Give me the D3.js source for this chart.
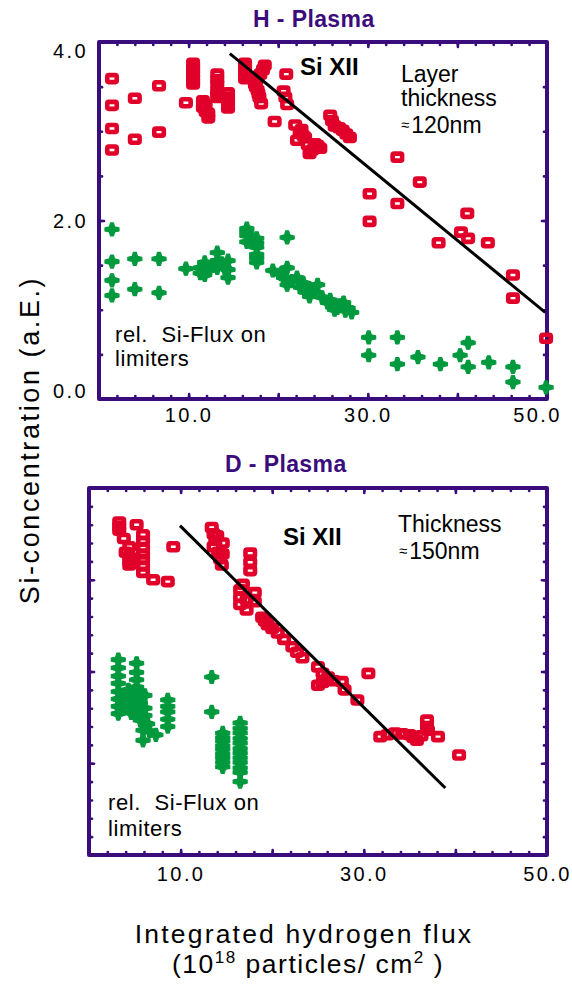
<!DOCTYPE html>
<html>
<head>
<meta charset="utf-8">
<script src="https://cdn.jsdelivr.net/npm/d3@7"></script>
<style>
  body { margin: 0; background: #fff; }
  text { font-family: "Liberation Sans", Arial, sans-serif; }
</style>
</head>
<body>
<svg id="chart" width="572" height="986"></svg>
<script>
// ---- data ----
// H - Plasma, Si XII  [flux, concentration]
var hSiXII = [
  [1.45,3.59],[1.45,3.29],[1.45,3.03],[1.45,2.79],
  [4.0,3.37],[4.0,2.91],[6.7,3.51],[6.7,2.99],[9.7,3.32],
  [10.5,3.76],[10.5,3.72],[10.5,3.68],[10.5,3.64],[10.5,3.60],[10.5,3.56],[10.5,3.53],
  [11.6,3.34],[11.6,3.27],[11.9,3.30],[11.9,3.22],[12.2,3.20],[12.2,3.15],
  [13.2,3.64],[13.2,3.58],[13.2,3.53],[13.2,3.46],[13.2,3.42],[13.2,3.38],
  [14.4,3.43],[14.4,3.38],[14.4,3.34],[14.4,3.30],[14.4,3.26],
  [16.3,3.76],[16.3,3.72],[16.3,3.68],[16.3,3.63],[16.3,3.59],
  [18.5,3.74],[18.3,3.69],[18.0,3.64],[17.6,3.58],[17.4,3.53],[17.5,3.50],
  [17.7,3.46],[17.8,3.42],[17.9,3.38],[18.1,3.31],
  [20.9,3.64],[20.6,3.45],[20.8,3.38],[21.0,3.30],[19.6,3.11],
  [21.9,3.07],[22.6,3.02],[22.4,2.98],[22.1,2.90],[22.8,2.95],
  [23.0,2.93],[23.3,2.85],[24.1,2.86],[24.4,2.84],[23.8,2.79],[24.7,2.81],[23.5,2.75],
  [25.8,3.18],[26.0,3.12],[26.3,3.06],[26.8,3.04],[27.2,3.01],[27.6,2.97],[28.0,2.93],
  [33.3,2.71],[35.8,2.43],[30.2,2.30],[33.3,2.19],[41.1,2.08],[30.2,1.99],
  [37.9,1.75],[40.4,1.87],[41.2,1.80],[43.4,1.75],[46.2,1.39],[46.2,1.13],[49.9,0.68]
];
// H - Plasma, rel. Si-Flux on limiters
var hFlux = [
  [1.45,1.90],[1.45,1.54],[1.45,1.33],[1.45,1.16],
  [4.0,1.57],[4.0,1.23],[6.7,1.57],[6.7,1.19],[9.7,1.46],
  [11.3,1.47],[11.3,1.41],[11.8,1.39],[11.8,1.46],[11.8,1.53],[12.2,1.44],[12.7,1.50],
  [13.2,1.64],[13.2,1.55],[13.2,1.47],[13.7,1.52],[14.0,1.47],
  [14.4,1.55],[14.4,1.45],[14.4,1.36],
  [16.5,1.91],[16.5,1.87],[16.5,1.83],[16.5,1.76],
  [17.6,1.80],[17.6,1.75],[17.6,1.70],[17.6,1.62],[17.6,1.58],[17.6,1.53],
  [21.0,1.81],[19.4,1.44],[21.0,1.47],[21.0,1.28],[20.3,1.40],[20.6,1.36],[21.5,1.32],[22.1,1.36],
  [22.5,1.25],[22.8,1.30],[23.0,1.20],[23.5,1.24],[24.4,1.28],[23.5,1.15],[24.0,1.20],
  [24.9,1.14],[25.5,1.08],[25.8,1.11],[26.6,1.02],[26.9,1.05],[27.5,0.99],[27.8,1.02],
  [28.2,0.97],[26.3,1.00],[27.3,1.08],
  [30.1,0.69],[30.1,0.49],[33.3,0.69],[33.3,0.39],[35.6,0.47],[38.1,0.39],
  [40.3,0.49],[41.2,0.63],[41.2,0.36],[43.5,0.41],[46.2,0.36],[46.2,0.19],[49.9,0.13]
];
var hFit = [[14.6,3.87],[49.8,0.97]];

// D - Plasma, Si XII
var dSiXII = [
  [3.3,3.63],[3.3,3.58],[3.3,3.54],[5.2,3.60],
  [3.8,3.45],[4.0,3.30],[4.4,3.36],[4.4,3.25],[4.4,3.20],[4.4,3.16],
  [5.9,3.49],[5.9,3.42],[5.9,3.35],[5.9,3.28],[5.9,3.22],[5.9,3.15],[5.9,3.08],
  [7.0,3.00],[8.6,2.98],[9.2,3.36],
  [13.4,3.57],[13.6,3.50],[14.0,3.48],[13.8,3.43],[14.6,3.40],[13.6,3.36],
  [14.1,3.30],[14.6,3.28],[14.3,3.23],[14.5,3.16],
  [17.6,3.29],[17.6,3.19],[17.6,3.10],
  [16.5,2.89],[16.8,2.95],[16.5,2.81],[16.5,2.73],[18.1,2.86],[17.2,2.78],[18.1,2.76],[17.2,2.67],
  [18.9,2.59],[19.2,2.55],[19.5,2.51],[20.0,2.47],[20.6,2.42],[21.3,2.35],
  [22.2,2.27],[22.7,2.21],[23.3,2.15],
  [25.0,2.05],[25.5,1.98],[25.0,1.85],[25.5,1.88],[26.1,1.94],[26.7,1.90],
  [27.6,1.89],[27.9,1.80],[29.3,1.69],[30.5,1.98],
  [31.8,1.29],[32.6,1.31],[33.4,1.33],[34.2,1.32],[35.0,1.31],[35.4,1.28],[35.8,1.25],
  [36.3,1.30],[36.9,1.47],[36.9,1.40],[37.0,1.36],[38.1,1.29],[40.4,1.09]
];
// D - Plasma, rel. Si-Flux on limiters
var dFlux = [
  [3.2,2.13],[3.2,2.04],[3.2,1.95],[3.2,1.87],[3.2,1.78],[3.2,1.70],[3.2,1.62],[3.2,1.54],
  [5.2,2.09],[5.2,1.99],[5.2,1.91],[5.2,1.83],
  [3.6,1.69],[3.6,1.60],[4.0,1.74],[4.3,1.80],[4.5,1.72],[4.5,1.63],[4.6,1.55],[4.9,1.69],
  [5.0,1.56],[5.2,1.78],[5.4,1.58],[5.6,1.66],[5.6,1.47],[6.1,1.74],[6.1,1.60],[6.1,1.52],
  [6.4,1.43],[6.6,1.35],
  [5.9,1.36],[5.9,1.25],[7.3,1.31],
  [8.6,1.69],[8.6,1.62],[8.6,1.56],[8.6,1.48],[8.6,1.40],
  [13.4,1.94],[13.4,1.56],
  [14.6,1.33],[14.6,1.28],[14.6,1.24],[14.6,1.19],[14.6,1.15],[14.6,1.10],
  [14.6,1.06],[14.6,1.01],[14.6,0.96],
  [16.5,1.44],[16.5,1.38],[16.5,1.33],[16.5,1.27],[16.5,1.22],[16.5,1.16],[16.5,1.11],
  [16.5,1.06],[16.5,1.01],[16.5,0.95],[16.5,0.90],[16.5,0.80]
];
var dFit = [[9.93,3.59],[38.9,0.73]];

var xLabels = [10, 30, 50];
var hYLabels = [0, 2, 4];

var purple = "#3b0c7c", red = "#e1002a", green = "#00993d";
var svg = d3.select("#chart");

// plus sign with slightly tapering arms, used for the flux points
var crossPath = "M-1.5,-6.5L1.5,-6.5L2.6,-2.6L7,-1.5L7,1.5L2.6,2.6L1.5,6.5L-1.5,6.5L-2.6,2.6L-7,1.5L-7,-1.5L-2.6,-2.6Z";

function drawPanel(p) {
  var x = d3.scaleLinear().domain([0, 50]).range([p.left, p.right]);
  var y = d3.scaleLinear().domain([0, p.yMax]).range([p.bottom, p.top]);
  var g = svg.append("g");

  var xMinor = d3.range(2, 50, 2), xMajor = [10, 20, 30, 40];
  var yMinor = d3.range(p.yStep, p.yMax - 1e-9, p.yStep);

  function ticks(axis, tx, ty, vals, len) {
    g.append("g").attr("transform", "translate(" + tx + "," + ty + ")")
      .call(axis.tickValues(vals).tickSize(-len).tickFormat(""))
      .call(function (a) { a.select(".domain").remove(); })
      .selectAll("line").attr("stroke", purple).attr("stroke-width", 2.6).attr("stroke-linecap", "round");
  }
  ticks(d3.axisBottom(x), 0, p.bottom, xMinor, 3);
  ticks(d3.axisBottom(x), 0, p.bottom, xMajor, 5);
  ticks(d3.axisTop(x), 0, p.top, xMinor, 3);
  ticks(d3.axisTop(x), 0, p.top, xMajor, 5);
  ticks(d3.axisLeft(y), p.left, 0, yMinor, 3);
  ticks(d3.axisLeft(y), p.left, 0, p.yMajor, 5);
  ticks(d3.axisRight(y), p.right, 0, yMinor, 3);
  ticks(d3.axisRight(y), p.right, 0, p.yMajor, 5);

  // frame
  g.append("rect")
    .attr("x", p.left).attr("y", p.top)
    .attr("width", p.right - p.left).attr("height", p.bottom - p.top)
    .attr("fill", "none").attr("stroke", purple).attr("stroke-width", 4)
    .attr("stroke-linejoin", "round");

  // x tick labels
  var xl = g.append("g").attr("transform", "translate(0," + p.bottom + ")")
    .call(d3.axisBottom(x).tickValues(xLabels).tickSize(0).tickPadding(p.xPad).tickFormat(d3.format(".1f")));
  xl.select(".domain").remove();
  xl.selectAll("text").attr("font-size", 20).attr("letter-spacing", 2.4)
    .attr("fill", "#000").attr("font-family", "Liberation Sans, Arial, sans-serif")
    .attr("dx", function (d) { return d === 50 ? p.lastDx : 0; });

  if (p.yLabels) {
    var yl = g.append("g").attr("transform", "translate(" + p.left + ",0)")
      .call(d3.axisLeft(y).tickValues(p.yLabels).tickSize(0).tickPadding(11).tickFormat(d3.format(".1f")));
    yl.select(".domain").remove();
    yl.selectAll("text").attr("font-size", 20).attr("letter-spacing", 2.4)
      .attr("fill", "#000").attr("font-family", "Liberation Sans, Arial, sans-serif")
      .attr("dy", function (d) { return d === 4 ? "0.78em" : d === 0 ? "-0.07em" : "0.34em"; });
  }

  // flux points
  g.append("g").selectAll("path").data(p.flux).join("path")
    .attr("d", crossPath)
    .attr("transform", function (d) { return "translate(" + x(d[0]) + "," + y(d[1]) + ")"; })
    .attr("fill", green).attr("stroke", green).attr("stroke-width", 1.2).attr("stroke-linejoin", "round");

  // Si XII points
  g.append("g").selectAll("rect").data(p.si).join("rect")
    .attr("x", function (d) { return x(d[0]) - 4.75; })
    .attr("y", function (d) { return y(d[1]) - 3.5; })
    .attr("width", 9.5).attr("height", 7).attr("rx", 1.5)
    .attr("fill", "none").attr("stroke", red).attr("stroke-width", 4.6);

  // fit line
  g.append("path").datum(p.fit)
    .attr("d", d3.line().x(function (d) { return x(d[0]); }).y(function (d) { return y(d[1]); }))
    .attr("stroke", "#000").attr("stroke-width", 3).attr("fill", "none");

  // title
  g.append("text").attr("x", p.titleX).attr("y", p.titleY)
    .attr("font-size", 23).attr("font-weight", "bold").attr("fill", purple)
    .attr("letter-spacing", 0.4).text(p.title);
}

drawPanel({
  left: 99, right: 547, top: 42, bottom: 399, yMax: 4, yStep: 0.5, yMajor: [2],
  si: hSiXII, flux: hFlux, fit: hFit, yLabels: hYLabels, xPad: 9, lastDx: -10,
  title: "H - Plasma", titleX: 253, titleY: 27
});
drawPanel({
  left: 89, right: 547, top: 488, bottom: 855, yMax: 4, yStep: 0.2, yMajor: [1, 2, 3],
  si: dSiXII, flux: dFlux, fit: dFit, yLabels: null, xPad: 12, lastDx: 0,
  title: "D - Plasma", titleX: 225, titleY: 472
});

// annotations
function label(x, y, size, txt, bold) {
  return svg.append("text").attr("x", x).attr("y", y).attr("font-size", size)
    .attr("font-weight", bold ? "bold" : "normal").attr("fill", "#000").text(txt);
}
label(300, 75, 24, "Si XII", true);
label(401, 82, 23, "Layer");
label(401, 106, 23, "thickness");
var t1 = label(401, 133, 23, "");
t1.append("tspan").attr("font-size", 15).attr("dy", -3).text("≈");
t1.append("tspan").attr("dx", 2).attr("dy", 3).text("120nm");
label(115, 342, 22, "rel.  Si-Flux on").attr("xml:space", "preserve").attr("letter-spacing", 0.6);
label(115, 366, 22, "limiters").attr("letter-spacing", 0.6);

label(283, 545, 24, "Si XII", true);
label(398, 532, 23, "Thickness");
var t2 = label(399, 559, 23, "");
t2.append("tspan").attr("font-size", 15).attr("dy", -3).text("≈");
t2.append("tspan").attr("dx", 2).attr("dy", 3).text("150nm");
label(108, 810, 22, "rel.  Si-Flux on").attr("xml:space", "preserve").attr("letter-spacing", 0.6);
label(108, 836, 22, "limiters").attr("letter-spacing", 0.6);

// axis titles
svg.append("text").attr("transform", "translate(39,440) rotate(-90)")
  .attr("text-anchor", "middle").attr("font-size", 27).attr("letter-spacing", 2.6)
  .attr("fill", "#000").text("Si-concentration (a.E.)");

svg.append("text").attr("x", 304).attr("y", 943).attr("text-anchor", "middle")
  .attr("font-size", 26.5).attr("letter-spacing", 2.2).attr("fill", "#000")
  .text("Integrated hydrogen flux");
var xt = svg.append("text").attr("x", 308).attr("y", 973).attr("text-anchor", "middle")
  .attr("font-size", 26.5).attr("letter-spacing", 1.5).attr("fill", "#000");
xt.append("tspan").text("(10");
xt.append("tspan").attr("font-size", 17).attr("dy", -10).text("18");
xt.append("tspan").attr("dy", 10).text(" particles/ cm");
xt.append("tspan").attr("font-size", 17).attr("dy", -10).text("2");
xt.append("tspan").attr("dy", 10).text(" )");
</script>
</body>
</html>
